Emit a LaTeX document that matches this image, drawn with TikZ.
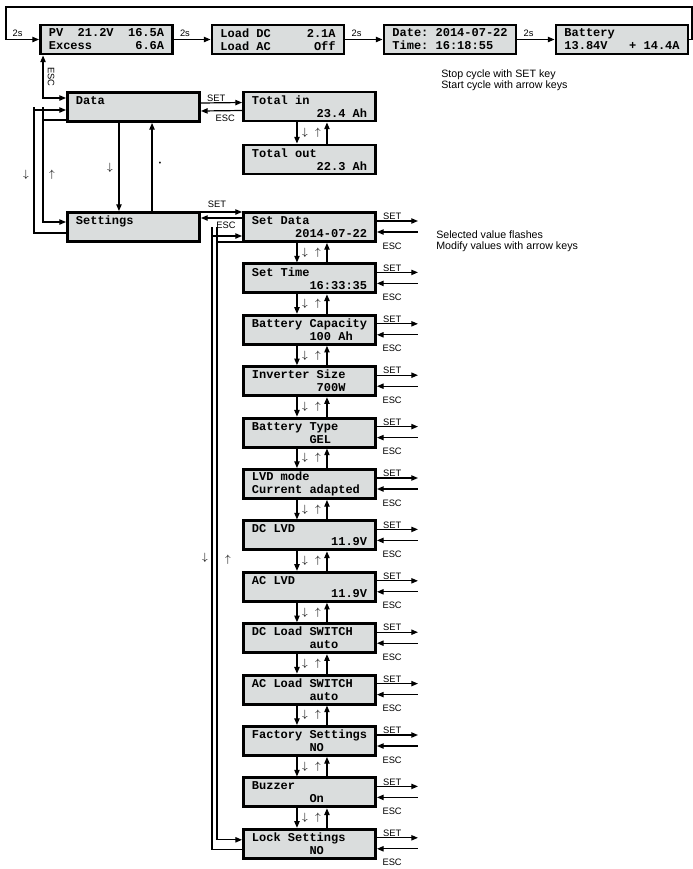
\documentclass[tikz,border=0pt]{standalone}
\usepackage{fontspec}
\setsansfont{Liberation Sans}
\setmonofont{Liberation Mono}
\usepackage{tikz}
\usetikzlibrary{arrows.meta,positioning}
\definecolor{lcdgray}{RGB}{218,221,221}
\newcommand\lcdsp{\hspace*{0.6em}}

\begin{document}
\begin{tikzpicture}[x=0.75pt,y=-0.75pt,
  lcd/.style={draw,line width=2.2pt,fill=lcdgray,minimum width=99pt,minimum height=21.75pt,
    inner sep=0pt,text width=86.4pt,align=left,font=\ttfamily\bfseries\fontsize{9}{9.75}\selectfont,
    execute at begin node={\let~\lcdsp}},
  conn/.style={line width=0.9pt},
  arr/.style={conn,-{Triangle[length=5pt,width=4pt]}},
  darr/.style={conn,{Triangle[length=5pt,width=4pt]}-{Triangle[length=5pt,width=4pt]}},
  keytxt/.style={font=\sffamily\fontsize{7}{8}\selectfont,inner sep=0.5pt},
  keyarr/.style={font=\footnotesize,inner sep=0pt},
  note/.style={font=\sffamily\fontsize{8}{8.5}\selectfont,align=left,inner sep=0pt,anchor=west}]
\useasboundingbox (0,0) rectangle (693,869);
\node[lcd] (pv) at (106.5,39.5) {PV~~21.2V~~16.5A\\Excess~~~~~~6.6A};
\node[lcd] (load) at (278,39.5) {Load~DC~~~~~2.1A\\Load~AC~~~~~~Off};
\node[lcd] (date) at (450,39.5) {Date:~2014-07-22\\Time:~16:18:55};
\node[lcd] (bat) at (622,39.5) {Battery\\13.84V~~~+~14.4A};
\foreach \a/\b in {pv/load,load/date,date/bat}
  \draw[arr] (\a) -- node[keytxt,above=1.5pt,pos=0.3] (t\a) {2s} (\b);
\coordinate (tr) at (692,7);\coordinate (tl) at (6,7);
\draw[arr] (bat.east) -| (tr) -- (tl) |- node[keytxt,above=1.5pt,pos=0.675] (tloop) {2s} (pv.west);
\node[note] (cyc) at (441,80) {Stop cycle with SET key\\Start cycle with arrow keys};

\node[lcd] (data) at (133.5,107) {Data\\~};
\node[lcd] (sett) at (133.5,227) {Settings\\~};
\node[lcd] (totin) at (309.5,106.5) {Total~in\\~~~~~~~~~23.4~Ah};
\node[lcd] (totout) at (309.5,159.5) {Total~out\\~~~~~~~~~22.3~Ah};
\draw[arr] ([yshift=3pt]data.east) -- node[keytxt,above,pos=0.37] (dset) {SET} ([yshift=3pt]totin.west);
\draw[arr] ([yshift=-3pt]totin.west) -- node[keytxt,below=2pt,pos=0.41] (desc) {ESC} ([yshift=-3pt]data.east);
\draw[arr] ([xshift=-9.4pt]totin.south) -- ([xshift=-9.4pt]totout.north);
\draw[arr] ([xshift=13.1pt]totout.north) -- ([xshift=13.1pt]totin.south);
\path (totin.south) -- (totout.north) node[keyarr,midway,xshift=-3.4pt] (tkd) {$\downarrow$} node[keyarr,midway,xshift=6.4pt] (tku) {$\uparrow$};

\coordinate (lx1) at ([xshift=-24pt]data.west);
\coordinate (lx2) at ([xshift=-17.25pt]data.west);
\coordinate (din1) at ([yshift=6.75pt]data.west);
\coordinate (din2) at ([yshift=-2.25pt]data.west);
\coordinate (dout) at ([yshift=-9.75pt]data.west);
\coordinate (sin) at ([yshift=3.75pt]sett.west);
\coordinate (sout) at ([yshift=-4.5pt]sett.west);
\draw[darr] (pv.south -| lx2) |- (din1);
\node[keytxt,rotate=-90] (escv) at (51,77) {ESC};
\draw[arr] (sout) -| (lx1) |- (din2);
\draw[arr] (dout) -| (lx2) |- (sin);
\node[keyarr] (lkd) at (26,175) {$\downarrow$};
\node[keyarr] (lku) at (52,175) {$\uparrow$};
\draw[arr] ([xshift=-10.9pt]data.south) -- ([xshift=-10.9pt]sett.north);
\draw[arr] ([xshift=13.9pt]sett.north) -- ([xshift=13.9pt]data.south);
\node[keyarr] (mkd) at (110,168) {$\downarrow$};
\node[keyarr] (mku) at (160,163) {\tiny\textbullet};

\foreach \la/\lb [count=\i from 0] in {
  Set~Data/~~~~~~2014-07-22,
  Set~Time/~~~~~~~~16:33:35,
  Battery~Capacity/~~~~~~~~100~Ah,
  Inverter~Size/~~~~~~~~~700W,
  Battery~Type/~~~~~~~~GEL,
  LVD~mode/Current~adapted,
  DC~LVD/~~~~~~~~~~~11.9V,
  AC~LVD/~~~~~~~~~~~11.9V,
  DC~Load~SWITCH/~~~~~~~~auto,
  AC~Load~SWITCH/~~~~~~~~auto,
  Factory~Settings/~~~~~~~~NO,
  Buzzer/~~~~~~~~On,
  Lock~Settings/~~~~~~~~NO}
  \node[lcd] (s\i) at (309.5,{227+51.4*\i}) {\la\\\lb};
\foreach \i in {0,...,11}{
  \pgfmathtruncatemacro{\j}{\i+1}
  \draw[arr] ([xshift=-9.4pt]s\i.south) -- ([xshift=-9.4pt]s\j.north);
  \draw[arr] ([xshift=13.1pt]s\j.north) -- ([xshift=13.1pt]s\i.south);
  \path (s\i.south) -- (s\j.north) node[keyarr,midway,xshift=-3.4pt] (kd\i) {$\downarrow$} node[keyarr,midway,xshift=6.4pt] (ku\i) {$\uparrow$};
}
\foreach \i in {0,...,12}{
  \path (s\i.east) ++(41,-6) coordinate (seto\i) ++(0,11) coordinate (esco\i);
  \draw[arr] (s\i.east |- seto\i) -- node[keytxt,above,pos=0.37] (setl\i) {SET} (seto\i);
  \draw[arr] (esco\i) -- node[keytxt,below=7pt,pos=0.63] (escl\i) {ESC} (s\i.east |- esco\i);
}
\draw[arr] ([yshift=11.25pt]sett.east) -- node[keytxt,above=2pt,pos=0.39] (sset) {SET} ([yshift=11.25pt]sett.east -| s0.west);
\draw[arr] ([yshift=6.75pt]s0.west -| totin.west) -- node[keytxt,below=2pt,pos=0.39] (sesc) {ESC} ([yshift=6.75pt]sett.east);
\node[note] (flash) at (436,241) {Selected value flashes\\Modify values with arrow keys};

\coordinate (lpo) at ([xshift=-22.5pt]s0.west);
\coordinate (lpi) at ([xshift=-18.75pt]s0.west);
\coordinate (s0in) at ([yshift=-6.75pt]s0.west);
\coordinate (s0out) at ([yshift=-11.25pt]s0.west);
\coordinate (s12in) at ([yshift=3pt]s12.west);
\coordinate (s12out) at ([yshift=-4.5pt]s12.west);
\draw[arr] (s12out) -| (lpo) |- (s0in);
\draw[arr] (s0out) -| (lpi) |- (s12in);
\node[keyarr] (bkd) at (205,558) {$\downarrow$};
\node[keyarr] (bku) at (228,560) {$\uparrow$};
\end{tikzpicture}
\end{document}
